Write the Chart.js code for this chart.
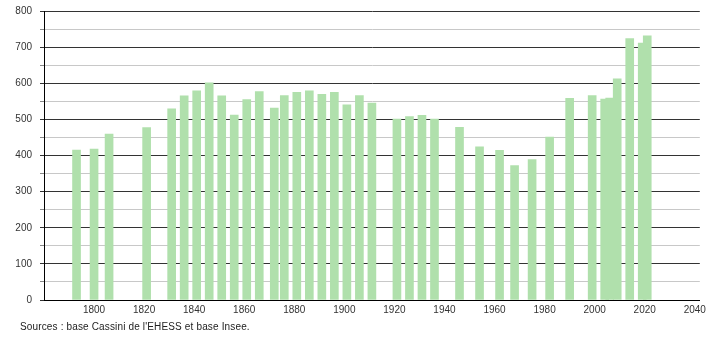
<!DOCTYPE html>
<html>
<head>
<meta charset="utf-8">
<script src="https://cdn.jsdelivr.net/npm/chart.js@4"></script>
<style>
  html, body { margin: 0; padding: 0; background: #fff; }
  #wrap { position: relative; width: 710px; height: 340px; }
  #src { position: absolute; left: 20px; top: 321px; font: 10px "Liberation Sans", Arial, sans-serif; color: #222; white-space: nowrap; letter-spacing: 0.15px; }
</style>
</head>
<body>
<div id="wrap">
  <canvas id="c" width="710" height="340"></canvas>
  <div id="src">Sources : base Cassini de l'EHESS et base Insee.</div>
</div>
<script>
const years = [1793, 1800, 1806, 1821, 1831, 1836, 1841, 1846, 1851, 1856,
               1861, 1866, 1872, 1876, 1881, 1886, 1891, 1896, 1901, 1906,
               1911, 1921, 1926, 1931, 1936, 1946, 1954, 1962, 1968, 1975,
               1982, 1990, 1999, 2004, 2006, 2009, 2014, 2019, 2021];
const population = [415, 418, 459, 477, 529, 565, 579, 601, 565, 512,
                    555, 577, 531, 566, 575, 579, 569, 575, 540, 566,
                    545, 501, 508, 511, 501, 478, 424, 414, 372, 389,
                    451, 558, 566, 556, 559, 612, 724, 711, 731];
const xTickLabels = [1800, 1820, 1840, 1860, 1880, 1900, 1920, 1940, 1960, 1980, 2000, 2020, 2040];
const yTickLabels = [0, 100, 200, 300, 400, 500, 600, 700, 800];

const FONT = { family: '"Liberation Sans", Arial, sans-serif', size: 10 };

new Chart(document.getElementById('c'), {
  type: 'bar',
  data: {
    datasets: [{
      data: years.map((y, i) => ({ x: y, y: population[i] })),
      backgroundColor: 'rgb(176,224,172)',
      borderWidth: 0,
      barThickness: 8
    }]
  },
  options: {
    responsive: false,
    animation: false,
    layout: { padding: { top: 11, right: 10, left: 0, bottom: 0 } },
    plugins: { legend: { display: false }, tooltip: { enabled: false } },
    scales: {
      x: {
        type: 'linear',
        offset: false,
        min: 1780,
        max: 2042,
        afterBuildTicks: (s) => { s.ticks = xTickLabels.map(v => ({ value: v })); },
        afterFit: (s) => { s.height = 40; },
        grid: { display: true, drawOnChartArea: false, drawTicks: false },
        border: { display: true, color: '#000', width: 1 },
        ticks: {
          font: FONT, color: '#333', padding: 4,
          maxRotation: 0, autoSkip: false,
          callback: (v) => String(v)
        }
      },
      y: {
        min: 0,
        max: 800,
        afterFit: (s) => { s.width = 44; s.paddingTop = 0; s.paddingBottom = 0; },
        ticks: {
          stepSize: 50,
          font: FONT, color: '#333', padding: 8,
          callback: (v) => yTickLabels.includes(v) ? String(v) : ''
        },
        grid: {
          color: (ctx) => (ctx.tick && ctx.tick.value % 100 === 0) ? '#333' : '#c8c8c8',
          tickColor: (ctx) => (ctx.tick && ctx.tick.value % 100 === 0) ? '#333' : '#888',
          tickLength: 4,
          lineWidth: 1
        },
        border: { display: true, color: '#000', width: 1 }
      }
    }
  }
});
</script>
</body>
</html>
